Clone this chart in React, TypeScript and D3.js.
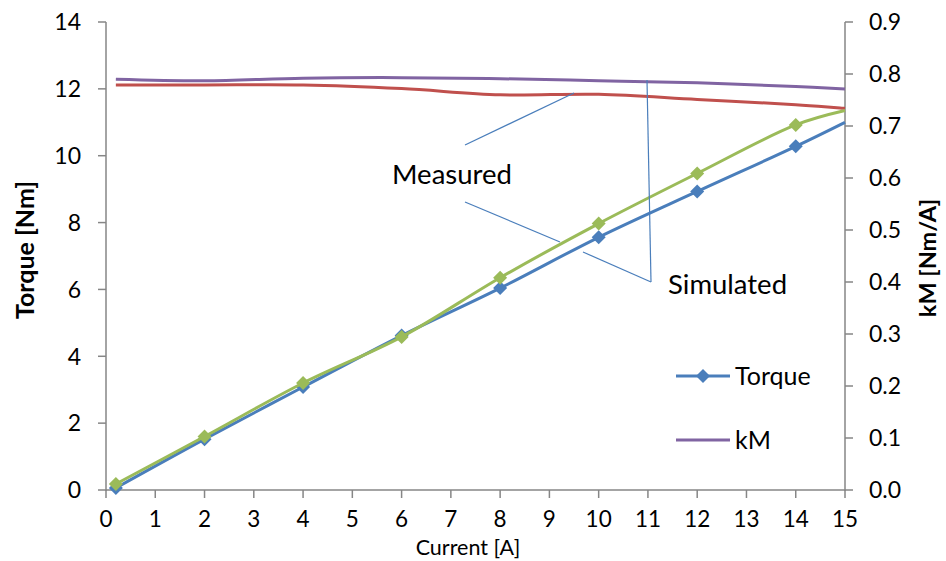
import React from "react";
import * as d3 from "d3";

const currents = [0.2, 2, 4, 6, 8, 10, 12, 14, 15];
const torqueMeasured = [0.06, 1.52, 3.08, 4.62, 6.04, 7.56, 8.93, 10.28, 11.0];
const torqueSimulated = [0.18, 1.6, 3.2, 4.58, 6.35, 7.97, 9.47, 10.92, 11.35];
const kmMeasured = [0.779, 0.779, 0.779, 0.772, 0.76, 0.761, 0.751, 0.741, 0.734];
const kmSimulated = [0.79, 0.787, 0.792, 0.793, 0.791, 0.787, 0.783, 0.776, 0.771];
const xTicks = d3.range(0, 16, 1);
const leftTicks = [0, 2, 4, 6, 8, 10, 12, 14];
const rightTicks = [0, 0.1, 0.2, 0.3, 0.4, 0.5, 0.6, 0.7, 0.8, 0.9];

const W = 946;
const H = 561;
const FONT = "Lato, Carlito, 'Open Sans', sans-serif";
const AXIS = "#868686";
const BLUE = "#4A7EBB";
const GREEN = "#9BBB59";
const RED = "#C0504D";
const PURPLE = "#8064A2";
const ANN = "#4A7EBB";

export default function App() {
  const x = d3.scaleLinear().domain([0, 15]).range([106, 845]);
  const yL = d3.scaleLinear().domain([0, 14]).range([490, 22]);
  const yR = d3.scaleLinear().domain([0, 0.9]).range([490, 22]);

  const curve = d3.curveCatmullRom.alpha(0.5);
  const lineL = d3
    .line<[number, number]>()
    .x((d) => x(d[0]))
    .y((d) => yL(d[1]))
    .curve(curve);
  const lineR = d3
    .line<[number, number]>()
    .x((d) => x(d[0]))
    .y((d) => yR(d[1]))
    .curve(curve);

  const zip = (vals: number[]) => currents.map((c, i) => [c, vals[i]] as [number, number]);
  const diamond = (cx: number, cy: number, r: number) =>
    `M${cx},${cy - r}L${cx + r},${cy}L${cx},${cy + r}L${cx - r},${cy}Z`;

  const markerPts = (vals: number[]) => currents.slice(0, -1).map((c, i) => [c, vals[i]]);

  return (
    <svg
      width={W}
      height={H}
      style={{ position: "absolute", left: 0, top: 0, background: "#fff" }}
      fontFamily={FONT}
    >
      {/* Axes */}
      <line x1={106} x2={106} y1={22} y2={491} stroke={AXIS} strokeWidth={1.5} />
      <line x1={845} x2={845} y1={22} y2={491} stroke={AXIS} strokeWidth={1.5} />
      <line x1={106} x2={845} y1={490} y2={490} stroke={AXIS} strokeWidth={1.5} />
      {leftTicks.map((t) => (
        <g key={"l" + t}>
          <line x1={98} x2={106} y1={yL(t)} y2={yL(t)} stroke={AXIS} strokeWidth={1.5} />
          <text x={81} y={yL(t)} dy="0.36em" textAnchor="end" fontSize={23} fill="#000">
            {t}
          </text>
        </g>
      ))}
      {rightTicks.map((t) => (
        <g key={"r" + t}>
          <line x1={845} x2={853} y1={yR(t)} y2={yR(t)} stroke={AXIS} strokeWidth={1.5} />
          <text x={869} y={yR(t)} dy="0.36em" textAnchor="start" fontSize={23} fill="#000">
            {t.toFixed(1)}
          </text>
        </g>
      ))}
      {xTicks.map((t) => (
        <g key={"x" + t}>
          <line x1={x(t)} x2={x(t)} y1={490} y2={498} stroke={AXIS} strokeWidth={1.5} />
          <text x={x(t)} y={519} dy="0.36em" textAnchor="middle" fontSize={22.5} fill="#000">
            {t}
          </text>
        </g>
      ))}

      {/* Axis titles */}
      <text x={468} y={547} dy="0.36em" textAnchor="middle" fontSize={21.5} fill="#000">
        Current [A]
      </text>
      <text
        transform={`translate(25,250) rotate(-90)`}
        textAnchor="middle"
        dy="0.36em"
        fontSize={25}
        fontWeight="bold"
        fill="#000"
      >
        Torque [Nm]
      </text>
      <text
        transform={`translate(928,258) rotate(-90)`}
        textAnchor="middle"
        dy="0.36em"
        fontSize={23.5}
        fontWeight="bold"
        fill="#000"
      >
        kM [Nm/A]
      </text>

      {/* kM lines */}
      <path d={lineR(zip(kmMeasured)) || ""} fill="none" stroke={RED} strokeWidth={3} />
      <path d={lineR(zip(kmSimulated)) || ""} fill="none" stroke={PURPLE} strokeWidth={3} />

      {/* Torque lines */}
      <path d={lineL(zip(torqueMeasured)) || ""} fill="none" stroke={BLUE} strokeWidth={3} />
      {markerPts(torqueMeasured).map((p, i) => (
        <path key={"bm" + i} d={diamond(x(p[0]), yL(p[1]), 7)} fill={BLUE} />
      ))}
      <path d={lineL(zip(torqueSimulated)) || ""} fill="none" stroke={GREEN} strokeWidth={3} />
      {markerPts(torqueSimulated).map((p, i) => (
        <path key={"gm" + i} d={diamond(x(p[0]), yL(p[1]), 7)} fill={GREEN} />
      ))}

      {/* Annotations */}
      <line x1={465} y1={145} x2={574} y2={93} stroke={ANN} strokeWidth={1.2} />
      <line x1={465} y1={202} x2={560} y2={242} stroke={ANN} strokeWidth={1.2} />
      <line x1={583} y1={252} x2={651} y2={282} stroke={ANN} strokeWidth={1.2} />
      <line x1={647} y1={80} x2={651} y2={282} stroke={ANN} strokeWidth={1.2} />
      <text x={392} y={174} dy="0.36em" fontSize={27.5} fill="#000">
        Measured
      </text>
      <text x={668} y={284} dy="0.36em" fontSize={27.5} fill="#000">
        Simulated
      </text>

      {/* Legend */}
      <line x1={676} x2={730} y1={376} y2={376} stroke={BLUE} strokeWidth={3} />
      <path d={diamond(703, 376, 7)} fill={BLUE} />
      <text x={735} y={376} dy="0.36em" fontSize={25} fill="#000">
        Torque
      </text>
      <line x1={676} x2={730} y1={440} y2={440} stroke={PURPLE} strokeWidth={3} />
      <text x={735} y={440} dy="0.36em" fontSize={25} fill="#000">
        kM
      </text>
    </svg>
  );
}
